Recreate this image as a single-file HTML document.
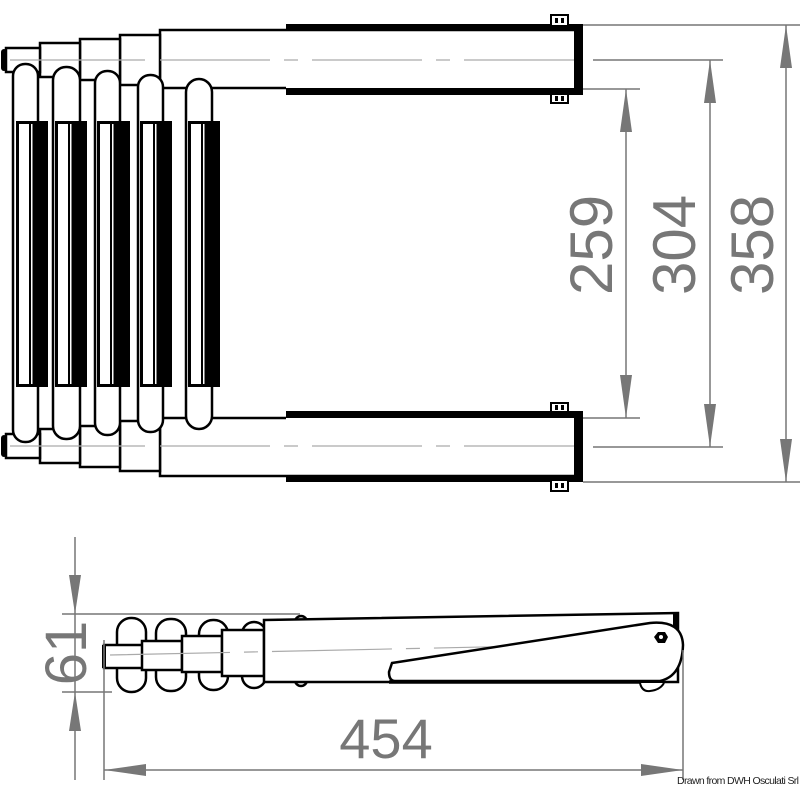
<!DOCTYPE html>
<html><head><meta charset="utf-8"><style>
html,body{margin:0;padding:0;background:#fff}
svg{display:block}
text{font-family:"Liberation Sans",sans-serif;fill:#777}
</style></head><body>
<svg width="800" height="800" viewBox="0 0 800 800" xmlns="http://www.w3.org/2000/svg">
<defs>
<g id="half">
  <!-- sections -->
  <path d="M583 30 L160 30 L160 88 L218 88" fill="#fff" stroke="#000" stroke-width="2.5"/>
  <rect x="120" y="35" width="40" height="50" fill="#fff" stroke="#000" stroke-width="2.5"/>
  <rect x="80" y="39" width="40" height="41" fill="#fff" stroke="#000" stroke-width="2.5"/>
  <rect x="40" y="43" width="40" height="34" fill="#fff" stroke="#000" stroke-width="2.5"/>
  <rect x="6" y="48" width="34" height="24" fill="#fff" stroke="#000" stroke-width="2.5"/>
  <rect x="1" y="49" width="6" height="22" rx="3" fill="#000"/>
  <line x1="10" y1="60" x2="145" y2="60" stroke="#aaa" stroke-width="1.2"/>
  <line x1="160" y1="60" x2="580" y2="60" stroke="#aaa" stroke-width="1.2" stroke-dasharray="110,14,14,14"/>
  <!-- thick rail -->
  <rect x="286" y="24" width="297" height="7" fill="#000"/>
  <rect x="286" y="88" width="297" height="7" fill="#000"/>
  <rect x="574" y="28" width="9" height="65" fill="#000"/>
  <line x1="218" y1="88" x2="286" y2="88" stroke="#000" stroke-width="2.5"/>
  <!-- pins -->
  <rect x="551" y="15" width="17" height="11" fill="#fff" stroke="#000" stroke-width="2"/>
  <rect x="555" y="18" width="3" height="5" fill="#000"/><rect x="561" y="18" width="3" height="5" fill="#000"/>
  <rect x="551" y="94" width="17" height="9" fill="#fff" stroke="#000" stroke-width="2"/>
  <rect x="555" y="96" width="3" height="5" fill="#000"/><rect x="561" y="96" width="3" height="5" fill="#000"/>
</g>
<g id="rung">
  <rect x="0" y="0" width="26" height="380" rx="13" fill="#fff" stroke="#000" stroke-width="2.5"/>
</g>
</defs>

<!-- top view -->
<use href="#half"/>
<use href="#half" transform="translate(0,506) scale(1,-1)"/>

<!-- rungs -->
<g>
  <rect x="13" y="64" width="25" height="378" rx="12" fill="#fff" stroke="#000" stroke-width="2.5"/>
  <rect x="53" y="67" width="27" height="372" rx="13" fill="#fff" stroke="#000" stroke-width="2.5"/>
  <rect x="95" y="71" width="25" height="364" rx="12" fill="#fff" stroke="#000" stroke-width="2.5"/>
  <rect x="138" y="75" width="25" height="357" rx="12" fill="#fff" stroke="#000" stroke-width="2.5"/>
  <rect x="186" y="79" width="26" height="350" rx="13" fill="#fff" stroke="#000" stroke-width="2.5"/>
</g>
<!-- pads -->
<g fill="#000">
  <rect x="16" y="121" width="32" height="266"/>
  <rect x="55" y="121" width="32" height="266"/>
  <rect x="97" y="121" width="33" height="266"/>
  <rect x="140" y="121" width="32" height="266"/>
  <rect x="188" y="121" width="32" height="266"/>
</g>
<g fill="#fff">
  <rect x="19" y="124" width="10" height="260"/><rect x="31" y="124" width="1.5" height="260"/>
  <rect x="58" y="124" width="10" height="260"/><rect x="70" y="124" width="1.5" height="260"/>
  <rect x="100" y="124" width="10" height="260"/><rect x="112" y="124" width="1.5" height="260"/>
  <rect x="143" y="124" width="10" height="260"/><rect x="155" y="124" width="1.5" height="260"/>
  <rect x="191" y="124" width="10" height="260"/><rect x="203" y="124" width="1.5" height="260"/>
</g>

<!-- top dims -->
<g stroke="#777" stroke-width="1.5" fill="none">
  <line x1="583" y1="25" x2="800" y2="25"/>
  <line x1="583" y1="482" x2="800" y2="482"/>
  <line x1="593" y1="60" x2="723" y2="60"/>
  <line x1="593" y1="447" x2="723" y2="447"/>
  <line x1="583" y1="89" x2="640" y2="89"/>
  <line x1="583" y1="418" x2="640" y2="418"/>
  <line x1="786" y1="25" x2="786" y2="482"/>
  <line x1="710" y1="60" x2="710" y2="447"/>
  <line x1="626" y1="89" x2="626" y2="418"/>
</g>
<g fill="#777">
  <polygon points="786,25 780,68 792,68"/><polygon points="786,482 780,439 792,439"/>
  <polygon points="710,60 704,103 716,103"/><polygon points="710,447 704,404 716,404"/>
  <polygon points="626,89 620,132 632,132"/><polygon points="626,418 620,375 632,375"/>
</g>
<text transform="translate(612,245) rotate(-90)" font-size="60" text-anchor="middle">259</text>
<text transform="translate(695,245) rotate(-90)" font-size="60" text-anchor="middle">304</text>
<text transform="translate(773,245) rotate(-90)" font-size="60" text-anchor="middle">358</text>

<!-- side view -->
<g stroke="#000" stroke-width="2.5" fill="#fff">
  <rect x="117" y="618" width="29" height="74" rx="14"/>
  <rect x="156" y="619" width="30" height="72" rx="14"/>
  <rect x="199" y="620" width="29" height="70" rx="14"/>
  <rect x="242" y="622" width="24" height="66" rx="12"/>
  <rect x="295" y="616" width="12" height="70" rx="6"/>
  <rect x="104" y="645" width="39" height="23"/>
  <rect x="142" y="641" width="40" height="29"/>
  <rect x="182" y="636" width="40" height="36"/>
  <rect x="222" y="630" width="42" height="46"/>
  <path d="M264 620 L678 613 L678 682 L264 682 Z"/>
</g>
<rect x="102" y="645" width="4" height="23" fill="#000"/>
<rect x="673" y="613" width="6" height="18" fill="#000"/>
<line x1="110" y1="655" x2="670" y2="643" stroke="#aaa" stroke-width="1.2" stroke-dasharray="120,14,14,14"/>
<path d="M392 663 L650 623 Q682 620 683 645 Q682 676 660 681 L395 681 Q389 681 389 672 Z" fill="#fff" stroke="#000" stroke-width="2.5"/>
<line x1="389" y1="682" x2="660" y2="682" stroke="#000" stroke-width="3.5"/>
<polygon points="654,637 658,632 665,632 668,637 665,643 658,643" fill="#000"/>
<circle cx="661" cy="637" r="2" fill="#fff"/>
<path d="M640 683 Q642 692 650 691 Q660 690 664 683" fill="#fff" stroke="#000" stroke-width="2"/>

<!-- side dims -->
<g stroke="#777" stroke-width="1.5" fill="none">
  <line x1="62" y1="614" x2="300" y2="614"/>
  <line x1="62" y1="692" x2="112" y2="692"/>
  <line x1="75" y1="537" x2="75" y2="780"/>
  <line x1="104" y1="640" x2="104" y2="780"/>
  <line x1="683" y1="650" x2="683" y2="780"/>
  <line x1="104" y1="770" x2="683" y2="770"/>
</g>
<g fill="#777">
  <polygon points="75,614 69,575 81,575"/><polygon points="75,692 69,731 81,731"/>
  <polygon points="104,770 146,764 146,776"/><polygon points="683,770 641,764 641,776"/>
</g>
<text transform="translate(66,653) rotate(-90)" font-size="58" text-anchor="middle" dy="20">61</text>
<text x="386" y="758" font-size="56" text-anchor="middle">454</text>
<text x="677" y="784" font-size="10.5" style="fill:#222" textLength="122">Drawn from DWH Osculati Srl</text>
</svg>
</body></html>
